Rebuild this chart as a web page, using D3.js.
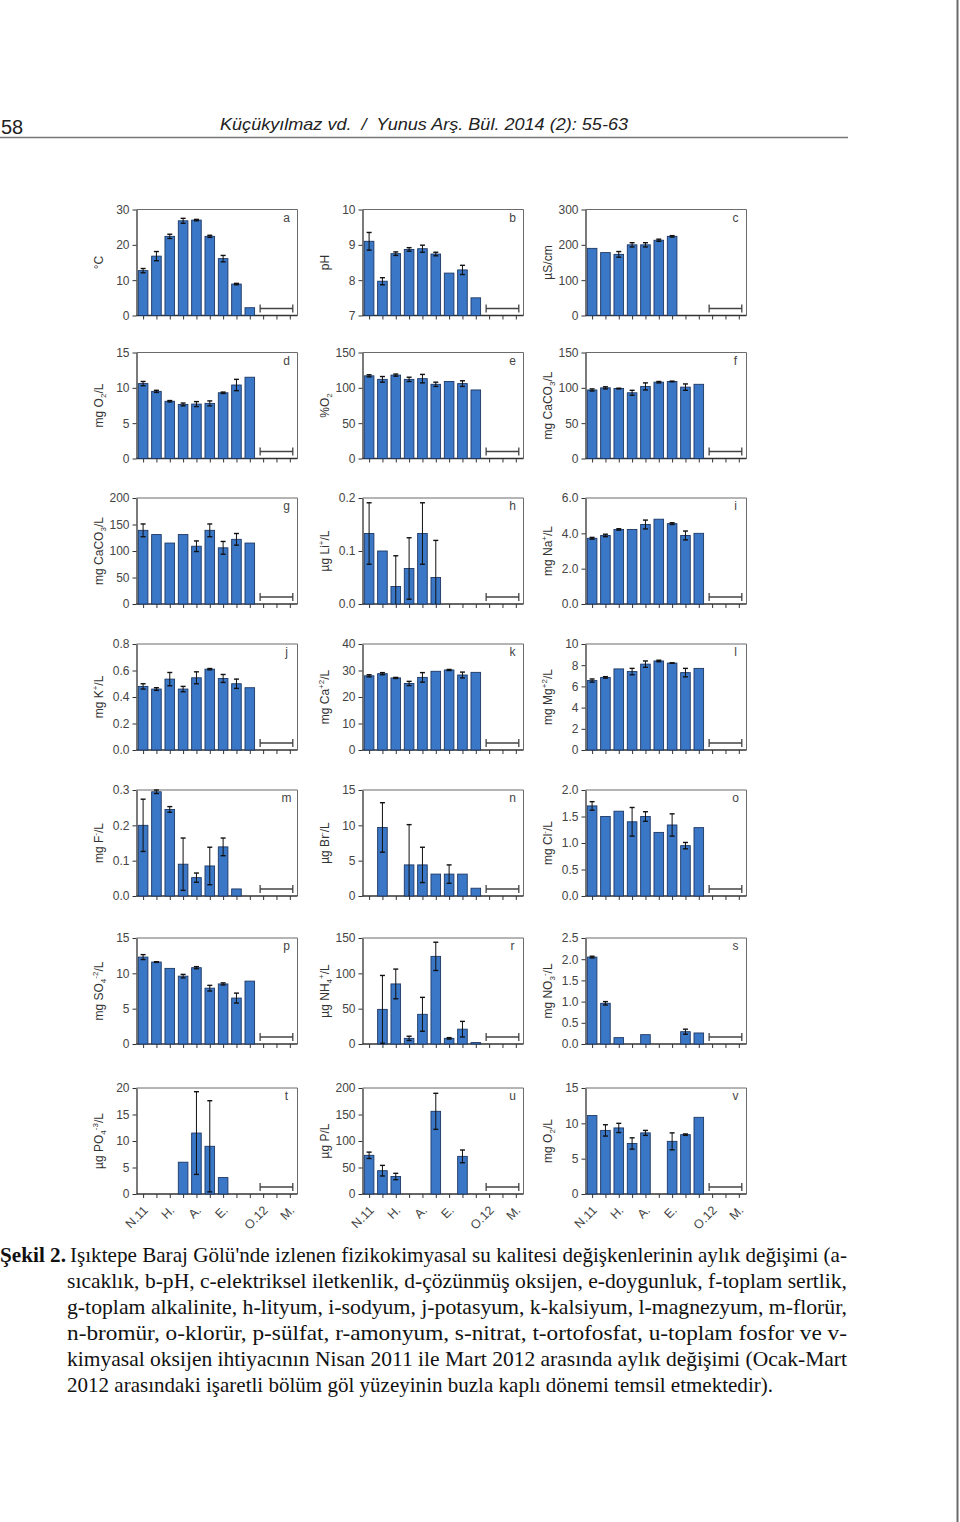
<!DOCTYPE html>
<html><head><meta charset="utf-8">
<script src="https://cdn.jsdelivr.net/npm/d3@7"></script>
<style>body{margin:0;background:#fff}svg{display:block}</style>
</head><body><svg id="fig" width="960" height="1522"></svg>
<script>
// ---------- categories ----------
const months = ["Nisan 2011","Mayıs","Haziran","Temmuz","Ağustos","Eylül","Ekim","Kasım","Aralık","Ocak 2012","Şubat","Mart"];
const monthLabels = ["N.11","","H.","","A.","","E.","","","O.12","","M."];
const iceStart = "Ocak 2012", iceEnd = "Mart";

// ---------- panel meta ----------
const panelLetters = ["a","b","c","d","e","f","g","h","i","j","k","l","m","n","o","p","r","s","t","u","v"];
const yLabels = ["°C","pH","µS/cm","mg O_{2}/L","%O_{2}","mg CaCO_{3}/L","mg CaCO_{3}/L","µg Li^{+}/L","mg Na^{+}/L","mg K^{+}/L","mg Ca^{+2}/L","mg Mg^{+2}/L","mg F^{-}/L","µg Br^{-}/L","mg Cl^{-}/L","mg SO_{4}^{-2}/L","µg NH_{4}^{+}/L","mg NO_{3}^{-}/L","µg PO_{4}^{-3}/L","µg P/L","mg O_{2}/L"];
const yMins = [0,7,0,0,0,0,0,0,0,0,0,0,0,0,0,0,0,0,0,0,0];
const yMaxs = [30,10,300,15,150,150,200,0.2,6,0.8,40,10,0.3,15,2,15,150,2.5,20,200,15];
const yTickSteps = [10,1,100,5,50,50,50,0.1,2,0.2,10,2,0.1,5,0.5,5,50,0.5,5,50,5];
const yTickDecimals = [0,0,0,0,0,0,0,1,1,1,0,0,1,0,1,0,0,1,0,0,0];

// ---------- series values (Apr–Dec 2011), null = no data ----------
const valA = [12.7,16.8,22.4,26.8,27.0,22.4,16.1,8.9,2.2];
const errA = [0.6,1.3,0.6,0.7,0.2,0.3,0.9,0.2,0];
const valB = [9.1,7.97,8.75,8.87,8.89,8.74,8.2,8.29,7.5];
const errB = [0.25,0.1,0.05,0.05,0.1,0.05,0,0.13,0];
const valC = [190,178,173,200,200,213,224,null,null];
const errC = [0,0,8,6,6,3,2,0,0];
const valD = [10.6,9.5,8.1,7.65,7.7,7.8,9.3,10.4,11.5];
const errD = [0.3,0.15,0.1,0.2,0.35,0.35,0.1,0.8,0];
const valE = [117,112,118,112,113,105,109,106,97];
const errE = [1.5,4,1.5,3,6,3,0,4,0];
const valF = [97,100,99,93,102,108,109,101,105];
const errF = [1.5,1.5,0.5,3.5,5,1,0.5,4.5,0];
const valG = [139,131,115,131,109,139,106,122,115];
const errG = [12,0,0,0,10,12,12,11,0];
const valH = [0.133,0.1,0.033,0.067,0.133,0.05,null,null,null];
const errH = [0.058,0,0.058,0.058,0.058,0.07,0,0,0];
const valI = [3.72,3.88,4.22,4.22,4.5,4.8,4.55,3.88,4.0];
const errI = [0.05,0.07,0.04,0,0.25,0,0.05,0.25,0];
const valJ = [0.48,0.46,0.535,0.46,0.545,0.61,0.54,0.5,0.47];
const errJ = [0.02,0.01,0.05,0.02,0.045,0.005,0.03,0.035,0];
const valK = [28,28.8,27.2,25.1,27.4,29.7,30.2,28.3,29.3];
const errK = [0.4,0.4,0.2,0.8,1.8,0,0.2,1.1,0];
const valL = [6.55,6.85,7.65,7.4,8.1,8.4,8.2,7.3,7.7];
const errL = [0.15,0.07,0,0.3,0.3,0.07,0.02,0.4,0];
const valM = [0.2,0.295,0.245,0.09,0.052,0.085,0.139,0.02,null];
const errM = [0.074,0.005,0.008,0.074,0.013,0.053,0.025,0,0];
const valN = [null,9.7,null,4.4,4.4,3.1,3.1,3.1,1.1];
const errN = [0,3.5,0,5.7,2.5,0,1.3,0,0];
const valO = [1.7,1.5,1.6,1.4,1.5,1.2,1.34,0.95,1.29];
const errO = [0.08,0,0,0.27,0.09,0,0.21,0.06,0];
const valP = [12.3,11.6,10.7,9.6,10.8,7.9,8.5,6.5,8.9];
const errP = [0.35,0.05,0,0.25,0.15,0.4,0.15,0.7,0];
const valR = [null,49,85,8,42,124,8,21,2];
const errR = [0,48,21,3,24,20,1,11,0];
const valS = [2.05,0.96,0.15,null,0.22,null,null,0.29,0.26];
const errS = [0.02,0.04,0,0,0,0,0,0.06,0];
const valT = [null,null,null,6.0,11.5,9.0,3.1,null,null];
const errT = [0,0,0,0,7.8,8.6,0,0,0];
const valU = [73,44,33,null,null,156,null,71,null];
const errU = [6,10,6,0,0,34,0,12,0];
const valV = [11.1,9.0,9.35,7.15,8.65,null,7.45,8.4,10.85];
const errV = [0,0.8,0.65,0.8,0.35,0,1.2,0.1,0];

const allVals = [valA,valB,valC,valD,valE,valF,valG,valH,valI,valJ,valK,valL,valM,valN,valO,valP,valR,valS,valT,valU,valV];
const allErrs = [errA,errB,errC,errD,errE,errF,errG,errH,errI,errJ,errK,errL,errM,errN,errO,errP,errR,errS,errT,errU,errV];

// ---------- text ----------
const headerPage = "58";
const headerRef = "Küçükyılmaz vd.  /  Yunus Arş. Bül. 2014 (2): 55-63";
const captionBold = "Şekil 2.";
const captionLines = [
  "Işıktepe Baraj Gölü'nde izlenen fizikokimyasal su kalitesi değişkenlerinin aylık değişimi (a-",
  "sıcaklık, b-pH, c-elektriksel iletkenlik, d-çözünmüş oksijen, e-doygunluk, f-toplam sertlik,",
  "g-toplam alkalinite, h-lityum, i-sodyum, j-potasyum, k-kalsiyum, l-magnezyum, m-florür,",
  "n-bromür, o-klorür, p-sülfat, r-amonyum, s-nitrat, t-ortofosfat, u-toplam fosfor ve v-",
  "kimyasal oksijen ihtiyacının Nisan 2011 ile Mart 2012 arasında aylık değişimi (Ocak-Mart",
  "2012 arasındaki işaretli bölüm göl yüzeyinin buzla kaplı dönemi temsil etmektedir)."
];

// ---------- layout ----------
const svg = d3.select("#fig");
const colX = [136.5, 362.5, 585.5];
const rowY = [209.5, 352.5, 498, 644, 790, 938, 1088];
const W = 161, H = 106, BW = 9.6;
const barFill = "#3a77c6", barStroke = "#1e3864";
const sans = "'Liberation Sans', Arial, sans-serif";

// page border line at right
svg.append("line").attr("x1",957.5).attr("x2",957.5).attr("y1",0).attr("y2",1522)
  .attr("stroke","#6a6a6a").attr("stroke-width",2);

// header
svg.append("text").attr("x",1).attr("y",134).attr("font-family",sans).attr("font-size",20)
  .attr("fill","#222").text(headerPage);
svg.append("text").attr("x",220).attr("y",130).attr("font-family",sans).attr("font-size",17)
  .attr("font-style","italic").attr("fill","#222").style("white-space","pre")
  .attr("textLength",408).attr("lengthAdjust","spacingAndGlyphs").text(headerRef);
svg.append("line").attr("x1",0).attr("x2",848).attr("y1",137.5).attr("y2",137.5)
  .attr("stroke","#777").attr("stroke-width",1.6);

function richLabel(sel, s) {
  const parts = s.match(/(_\{[^}]*\}|\^\{[^}]*\}|[^_^]+)/g);
  let shift = 0;
  parts.forEach(p => {
    let target = 0, txt = p, small = false;
    if (p.startsWith("_{")) { target = 3; txt = p.slice(2,-1); small = true; }
    else if (p.startsWith("^{")) { target = -4.5; txt = p.slice(2,-1); small = true; }
    const t = sel.append("tspan").attr("dy", target - shift).text(txt);
    if (small) t.attr("font-size", 8);
    shift = target;
  });
}

panelLetters.forEach((letter, k) => {
  const col = k % 3, row = Math.floor(k / 3);
  const g = svg.append("g").attr("transform", `translate(${colX[col]},${rowY[row]})`);
  const vals = allVals[k], errs = allErrs[k];
  const yMin = yMins[k], yMax = yMaxs[k];

  const x = d3.scalePoint().domain(months).range([6.6, 153.3]);
  const y = d3.scaleLinear().domain([yMin, yMax]).range([H, 0]);
  const ticks = d3.range(yMin, yMax + yTickSteps[k] / 2, yTickSteps[k]);
  const fmt = d3.format("." + yTickDecimals[k] + "f");

  // frame (top and right)
  g.append("path").attr("d", `M0,0H${W}V${H}`).attr("fill","none")
    .attr("stroke","#6b6b6b").attr("stroke-width",1);

  // y axis
  const ya = g.append("g").call(d3.axisLeft(y).tickValues(ticks).tickFormat(fmt).tickSize(4).tickSizeOuter(0).tickPadding(3));
  ya.select(".domain").attr("stroke","#333").attr("stroke-width",1.3);
  ya.selectAll(".tick line").attr("stroke","#333");
  ya.selectAll(".tick text").attr("font-family",sans).attr("font-size",12).attr("fill","#444");

  // x axis
  const bottomRow = row === 6;
  const xa = g.append("g").attr("transform",`translate(0,${H})`)
    .call(d3.axisBottom(x).tickSize(4).tickSizeOuter(0)
      .tickFormat((d,i) => bottomRow ? monthLabels[i] : ""));
  xa.select(".domain").attr("d", `M0,0H${W}`).attr("stroke","#333").attr("stroke-width",1.3);
  xa.selectAll(".tick line").attr("stroke","#333");
  xa.selectAll(".tick text").attr("font-family",sans).attr("font-size",12.5).attr("fill","#444")
    .attr("y",0).attr("dy",0).attr("text-anchor","end")
    .attr("transform","translate(5,17) rotate(-45)");

  // bars
  const data = vals.map((v,i) => ({m: months[i], v, e: errs[i]})).filter(d => d.v !== null);
  g.selectAll("rect.bar").data(data).join("rect").attr("class","bar")
    .attr("x", d => x(d.m) - BW/2).attr("width", BW)
    .attr("y", d => y(d.v)).attr("height", d => y(yMin) - y(d.v))
    .attr("fill", barFill).attr("stroke", barStroke).attr("stroke-width", 0.9);

  // error bars
  const ed = data.filter(d => d.e > 0);
  const eg = g.selectAll("g.err").data(ed).join("g").attr("class","err")
    .attr("stroke","#111").attr("stroke-width",1);
  eg.append("line").attr("x1", d => x(d.m)).attr("x2", d => x(d.m))
    .attr("y1", d => y(d.v + d.e)).attr("y2", d => y(Math.max(yMin, d.v - d.e)));
  eg.append("line").attr("x1", d => x(d.m) - 2.5).attr("x2", d => x(d.m) + 2.5)
    .attr("y1", d => y(d.v + d.e)).attr("y2", d => y(d.v + d.e)).attr("stroke-width",1.4);
  eg.filter(d => d.v - d.e >= yMin).append("line")
    .attr("x1", d => x(d.m) - 2.5).attr("x2", d => x(d.m) + 2.5)
    .attr("y1", d => y(d.v - d.e)).attr("y2", d => y(d.v - d.e)).attr("stroke-width",1.4);

  // ice-covered bracket
  const bx1 = x(iceStart) - 3, bx2 = x(iceEnd) + 3, by = H - 7;
  g.append("path").attr("d", `M${bx1},${by-4}V${by+4}M${bx1},${by}H${bx2}M${bx2},${by-4}V${by+4}`)
    .attr("fill","none").attr("stroke","#444").attr("stroke-width",1.3);

  // panel letter
  g.append("text").attr("x", W - 11).attr("y", 12).attr("text-anchor","middle")
    .attr("font-family",sans).attr("font-size",12).attr("fill","#444").text(letter);

  // y label
  const yl = g.append("text").attr("transform", `translate(-34,${H/2}) rotate(-90)`)
    .attr("text-anchor","middle").attr("dy","0.35em")
    .attr("font-family",sans).attr("font-size",12).attr("fill","#333");
  richLabel(yl, yLabels[k]);
});

// caption
const serif = "'Liberation Serif', 'Times New Roman', serif";
svg.append("text").attr("x",0).attr("y",1262).attr("font-family",serif).attr("font-size",21)
  .attr("font-weight","bold").attr("fill","#111")
  .attr("textLength",66).attr("lengthAdjust","spacingAndGlyphs").text(captionBold);
const capX = [70,67,67,67,67,67];
const capEnd = [847,847,847,847,847,773];
captionLines.forEach((line, i) => {
  svg.append("text").attr("x",capX[i]).attr("y",1262 + i*26)
    .attr("font-family",serif).attr("font-size",21).attr("fill","#111")
    .attr("textLength",capEnd[i]-capX[i]).attr("lengthAdjust","spacingAndGlyphs").text(line);
});
</script></body></html>
